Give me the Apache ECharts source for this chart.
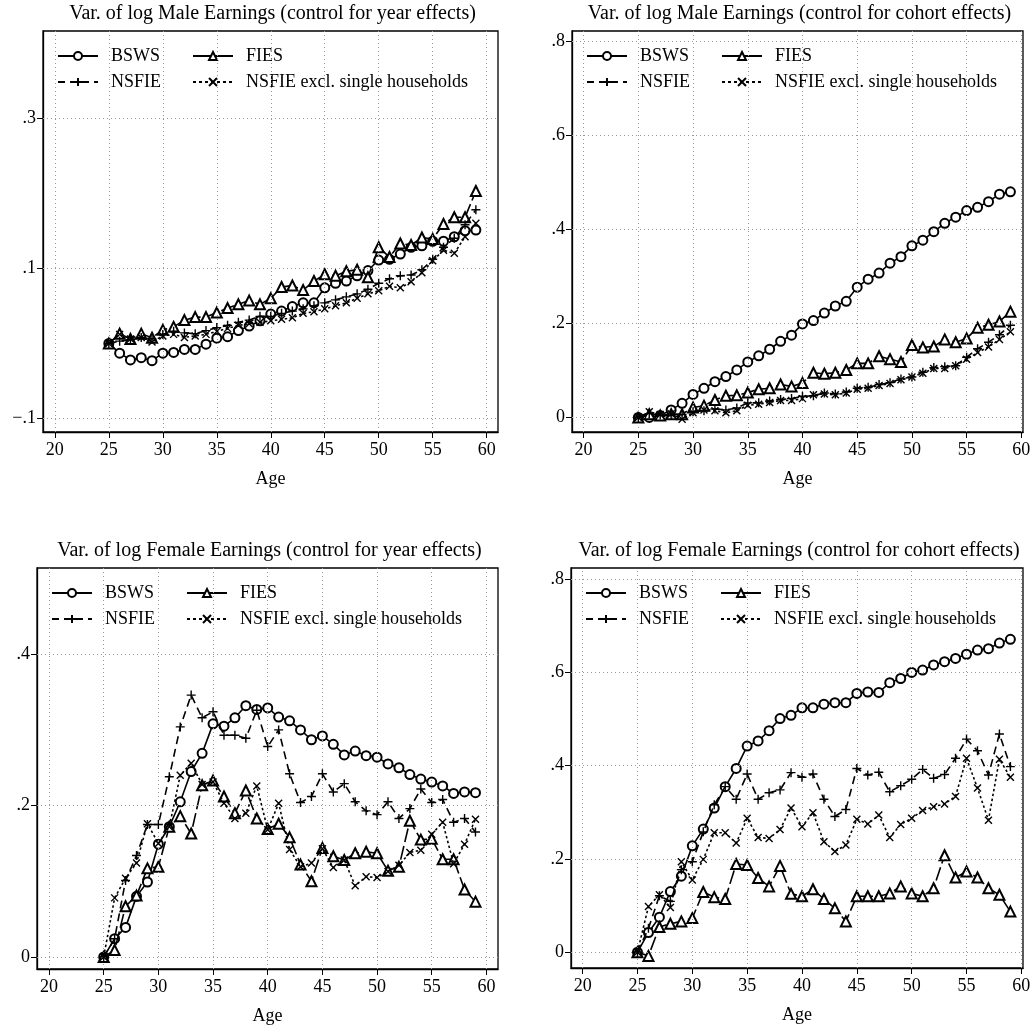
<!DOCTYPE html>
<html>
<head>
<meta charset="utf-8">
<script src="https://cdn.jsdelivr.net/npm/echarts@6/dist/echarts.min.js"></script>
<style>html,body{margin:0;padding:0;background:#fff}#main{width:1035px;height:1030px}</style>
</head>
<body>
<div id="main"></div>
<script>
// ages 25..59
var ages = [25,26,27,28,29,30,31,32,33,34,35,36,37,38,39,40,41,42,43,44,45,46,47,48,49,50,51,52,53,54,55,56,57,58,59]
var xTicks = [20,25,30,35,40,45,50,55,60]

// Male, year effects
var mYearBSWS = [0,-.013,-.022,-.019,-.023,-.013,-.012,-.008,-.008,-.001,.007,.009,.017,.023,.030,.039,.043,.049,.054,.054,.074,.080,.083,.090,.097,.111,.112,.119,.128,.130,.136,.136,.142,.150,.151]
var mYearFIES = [0,.013,.006,.013,.0075,.018,.022,.031,.035,.035,.041,.047,.052,.057,.052,.060,.075,.077,.071,.083,.092,.090,.096,.098,.088,.128,.115,.133,.131,.141,.139,.159,.168,.168,.203]
var mYearNSFIE = [0,.003,.005,.008,.006,.012,.016,.014,.013,.017,.021,.024,.028,.031,.036,.036,.040,.043,.046,.050,.054,.058,.062,.066,.072,.080,.086,.090,.091,.098,.112,.128,.140,.158,.178]
var mYearExcl = [0,.012,.006,.008,.002,.010,.012,.008,.010,.012,.016,.020,.024,.026,.028,.030,.032,.034,.040,.042,.046,.050,.054,.060,.066,.070,.076,.074,.082,.094,.110,.124,.120,.142,.160]

// Male, cohort effects
var mCohBSWS = [0,0,.004,.016,.030,.049,.062,.076,.087,.101,.118,.131,.145,.162,.175,.199,.206,.222,.237,.247,.277,.294,.307,.328,.342,.365,.377,.395,.413,.426,.440,.447,.459,.475,.480]
var mCohFIES = [0,.007,.004,.007,.007,.021,.025,.037,.046,.047,.053,.060,.062,.070,.066,.073,.095,.093,.095,.101,.115,.115,.130,.124,.118,.154,.149,.151,.166,.160,.168,.191,.197,.204,.225]
var mCohNSFIE = [0,.008,.005,.004,.006,.012,.014,.018,.016,.020,.031,.031,.035,.038,.040,.045,.046,.052,.050,.054,.062,.064,.070,.074,.082,.086,.096,.106,.108,.110,.128,.146,.160,.176,.196]
var mCohExcl = [0,.012,.006,.008,-.004,.010,.016,.014,.010,.014,.026,.028,.032,.036,.036,.040,.048,.050,.048,.052,.060,.062,.068,.072,.080,.086,.094,.104,.104,.110,.124,.138,.150,.166,.182]

// Female, year effects
var fYearBSWS = [0,.024,.039,.080,.099,.149,.172,.205,.245,.269,.308,.305,.316,.332,.327,.329,.317,.312,.300,.287,.292,.281,.267,.272,.266,.264,.255,.250,.241,.235,.231,.226,.216,.218,.217]
var fYearFIES = [0,.009,.067,.081,.117,.119,.172,.186,.163,.227,.233,.212,.190,.220,.183,.169,.176,.158,.122,.100,.144,.133,.128,.137,.139,.137,.114,.119,.180,.155,.156,.129,.129,.089,.073]
var fYearNSFIE = [0,.024,.101,.134,.175,.175,.238,.304,.346,.316,.324,.293,.293,.289,.326,.278,.300,.242,.204,.212,.242,.218,.229,.205,.193,.188,.205,.183,.196,.222,.204,.208,.178,.183,.165]
var fYearExcl = [0,.078,.104,.124,.176,.150,.172,.240,.256,.228,.231,.203,.183,.190,.226,.168,.203,.142,.119,.124,.143,.118,.128,.094,.106,.105,.113,.121,.138,.141,.162,.178,.123,.149,.182]

// Female, cohort effects
var fCohBSWS = [0,.042,.075,.130,.163,.228,.264,.309,.355,.394,.442,.453,.475,.501,.508,.524,.524,.532,.535,.535,.555,.558,.557,.578,.587,.600,.605,.616,.623,.630,.639,.648,.651,.663,.671]
var fCohFIES = [0,-.008,.054,.061,.066,.073,.129,.118,.114,.189,.187,.159,.141,.185,.125,.120,.135,.114,.094,.066,.120,.120,.120,.126,.141,.126,.120,.137,.208,.160,.173,.160,.137,.123,.087]
var fCohNSFIE = [0,.051,.121,.109,.177,.194,.258,.316,.355,.328,.382,.328,.342,.348,.385,.375,.382,.328,.291,.306,.394,.380,.386,.344,.357,.371,.392,.373,.381,.416,.457,.432,.380,.468,.398]
var fCohExcl = [0,.098,.123,.096,.194,.155,.199,.256,.256,.234,.287,.246,.244,.263,.309,.269,.299,.237,.216,.230,.285,.275,.294,.246,.274,.287,.304,.312,.318,.334,.416,.352,.283,.414,.375]

var seriesNames = ['BSWS', 'FIES', 'NSFIE', 'NSFIE excl. single households']

var panels = [
  { title: 'Var. of log Male Earnings (control for year effects)', box: [43, 31, 498, 432], x: [18.9, 61.05], y: [-0.118, 0.416], yTicks: [-0.1, 0.1, 0.3], data: [mYearBSWS, mYearFIES, mYearNSFIE, mYearExcl] },
  { title: 'Var. of log Male Earnings (control for cohort effects)', box: [572, 31, 1023, 432], x: [18.94, 60.15], y: [-0.031, 0.822], yTicks: [0, 0.2, 0.4, 0.6, 0.8], data: [mCohBSWS, mCohFIES, mCohNSFIE, mCohExcl] },
  { title: 'Var. of log Female Earnings (control for year effects)', box: [37, 568, 498, 969], x: [18.9, 61.06], y: [-0.016, 0.514], yTicks: [0, 0.2, 0.4], data: [fYearBSWS, fYearFIES, fYearNSFIE, fYearExcl] },
  { title: 'Var. of log Female Earnings (control for cohort effects)', box: [571, 568, 1023, 968], x: [18.94, 60.15], y: [-0.034, 0.824], yTicks: [0, 0.2, 0.4, 0.6, 0.8], data: [fCohBSWS, fCohFIES, fCohNSFIE, fCohExcl] }
]

var FONT = 'Liberation Serif'
var plusPath = 'path://M0,5L10,5M5,0L5,10'
var crossPath = 'path://M1,1L9,9M9,1L1,9'
var styles = [
  { symbol: 'emptyCircle', size: 9, type: 'solid', legendType: 'solid' },
  { symbol: 'emptyTriangle', size: 10, type: [14, 4], legendType: 'solid' },
  { symbol: plusPath, size: 9, type: [8, 5], legendType: [7, 5] },
  { symbol: crossPath, size: 7, type: [2.5, 2.5], legendType: [3, 3] }
]

function fmtY(v) {
  if (Math.abs(v) < 1e-9) return '0'
  var s = Math.abs(v).toFixed(1).replace(/^0/, '')
  return (v < 0 ? '\u2212' : '') + s
}

var option = { animation: false, title: [], grid: [], xAxis: [], yAxis: [], series: [], legend: [] }

panels.forEach(function (p, i) {
  var b = p.box
  option.title.push({ text: p.title, left: (b[0] + b[2]) / 2 + 2, top: b[1] - 27, textAlign: 'center', padding: 0,
    textStyle: { fontFamily: FONT, fontSize: 20, fontWeight: 'normal', color: '#000' } })
  option.grid.push({ left: b[0], top: b[1], width: b[2] - b[0], height: b[3] - b[1], show: true, borderColor: '#000', borderWidth: 1.3 })
  option.xAxis.push({ type: 'value', gridIndex: i, min: p.x[0], max: p.x[1], name: 'Age', nameLocation: 'middle', nameGap: 38,
    nameTextStyle: { fontFamily: FONT, fontSize: 18, color: '#000' },
    axisLine: { show: true, onZero: false, lineStyle: { color: '#000', width: 1.3 } },
    axisTick: { show: true, length: 6, customValues: xTicks, lineStyle: { color: '#000' } },
    axisLabel: { customValues: xTicks, fontFamily: FONT, fontSize: 18, color: '#000', margin: 9 },
    splitLine: { show: false } })
  option.yAxis.push({ type: 'value', gridIndex: i, min: p.y[0], max: p.y[1],
    axisLine: { show: true, onZero: false, lineStyle: { color: '#000', width: 1.3 } },
    axisTick: { show: true, length: 6, customValues: p.yTicks, lineStyle: { color: '#000' } },
    axisLabel: { customValues: p.yTicks, formatter: fmtY, fontFamily: FONT, fontSize: 18, color: '#000', margin: 7 },
    splitLine: { show: false } })
  // dotted grid lines
  var gridLines = xTicks.map(function (t) { return { xAxis: t } }).concat(p.yTicks.map(function (t) { return { yAxis: t } }))
  option.series.push({ type: 'line', xAxisIndex: i, yAxisIndex: i, data: [], silent: true,
    markLine: { silent: true, symbol: 'none', label: { show: false }, animation: false,
      lineStyle: { color: '#999', type: [1, 3], width: 1 }, data: gridLines } })
  p.data.forEach(function (vals, k) {
    var st = styles[k]
    option.series.push({
      type: 'line', name: seriesNames[k], xAxisIndex: i, yAxisIndex: i,
      data: ages.map(function (a, j) { return [a, vals[j]] }),
      symbol: st.symbol, symbolSize: st.size, showAllSymbol: true,
      lineStyle: { color: '#000', width: 1.6, type: st.type },
      itemStyle: { color: k >= 2 ? 'rgba(0,0,0,0)' : '#000', borderColor: '#000', borderWidth: 1.4 },
      z: 3 + k
    })
  })
  // legend: 2x2 inside box
  var pos = [[b[0] + 14, b[1] + 16], [b[0] + 149, b[1] + 16], [b[0] + 14, b[1] + 42], [b[0] + 149, b[1] + 42]]
  seriesNames.forEach(function (n, k) {
    option.legend.push({ data: [{ name: n, lineStyle: { type: styles[k].legendType, width: 2 } }],
      left: pos[k][0], top: pos[k][1], padding: 0, itemWidth: 40, itemHeight: 10, itemGap: 0,
      selectedMode: false, textStyle: { fontFamily: FONT, fontSize: 18, color: '#000', padding: [0, 0, 0, 8] } })
  })
})

var chart = echarts.init(document.getElementById('main'))
chart.setOption(option)
</script>
</body>
</html>
